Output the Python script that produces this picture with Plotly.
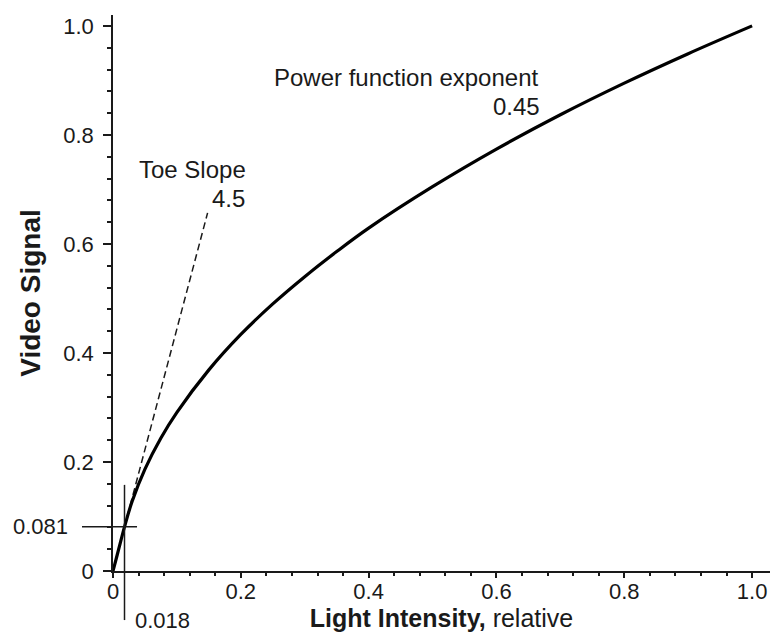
import plotly.graph_objects as go

# ---- data ----
light = [0.0, 0.005, 0.01, 0.018, 0.03, 0.05, 0.075, 0.1, 0.15, 0.2, 0.25, 0.3,
         0.35, 0.4, 0.5, 0.6, 0.7, 0.8, 0.9, 1.0]
signal = [0.0, 0.0225, 0.045, 0.081, 0.128, 0.187, 0.244, 0.291, 0.369, 0.434,
          0.490, 0.540, 0.586, 0.629, 0.705, 0.774, 0.837, 0.895, 0.949, 1.0]

toe_x = [0.018, 0.148]
toe_y = [0.081, 0.657]

knee_x = 0.018
knee_y = 0.081

tick_vals = [0, 0.2, 0.4, 0.6, 0.8, 1.0]
tick_text = ["0", "0.2", "0.4", "0.6", "0.8", "1.0"]

XMAX = 1.028
YMAX = 1.02
FONT = "Liberation Sans, Arial, sans-serif"
INK = "#1a1a1a"

fig = go.Figure()
fig.add_trace(go.Scatter(x=toe_x, y=toe_y, mode="lines",
                         line=dict(color=INK, width=1.5, dash="7px,4px"),
                         hoverinfo="skip", showlegend=False))
fig.add_trace(go.Scatter(x=light, y=signal, mode="lines",
                         line=dict(color="black", width=3.2, shape="spline"),
                         showlegend=False))

# knee cross lines (extend outside plot area -> paper coords)
fig.add_shape(type="line", xref="paper", yref="paper",
              x0=knee_x / XMAX, x1=knee_x / XMAX,
              y0=-0.09 / YMAX, y1=0.158 / YMAX,
              line=dict(color=INK, width=1.5))
fig.add_shape(type="line", xref="paper", yref="paper",
              x0=-0.0485 / XMAX, x1=0.0376 / XMAX,
              y0=knee_y / YMAX, y1=knee_y / YMAX,
              line=dict(color=INK, width=1.5))

ann_font = dict(family=FONT, size=24, color=INK)
fig.add_annotation(xref="paper", yref="paper", x=-0.067 / XMAX, y=knee_y / YMAX,
                   text=str(knee_y), showarrow=False,
                   xanchor="right", yanchor="middle",
                   font=dict(family=FONT, size=22, color=INK))
fig.add_annotation(xref="paper", yref="paper", x=0.031 / XMAX, y=-0.09 / YMAX,
                   text=str(knee_x), showarrow=False,
                   xanchor="left", yanchor="middle",
                   font=dict(family=FONT, size=22, color=INK))
fig.add_annotation(x=0.0376, y=0.736, text="Toe Slope", showarrow=False,
                   xanchor="left", yanchor="middle", font=ann_font)
fig.add_annotation(x=0.2097, y=0.684, text="4.5", showarrow=False,
                   xanchor="right", yanchor="middle", font=ann_font)
fig.add_annotation(x=0.249, y=0.905, text="Power function exponent", showarrow=False,
                   xanchor="left", yanchor="middle", font=ann_font)
fig.add_annotation(x=0.671, y=0.852, text="0.45", showarrow=False,
                   xanchor="right", yanchor="middle", font=ann_font)

axis_common = dict(
    showline=True, linecolor=INK, linewidth=1.5,
    ticks="outside", tickwidth=1.5, tickcolor=INK,
    tickvals=tick_vals, ticktext=tick_text,
    tickfont=dict(family=FONT, size=22, color=INK),
    showgrid=False, zeroline=False,
)

fig.update_xaxes(range=[0, XMAX], **axis_common, ticklen=5, ticklabelstandoff=-5,
                 minor=dict(ticks="outside", ticklen=3, tickwidth=1.5,
                            tickcolor=INK, dtick=0.04),
                 title=dict(text="<b>Light Intensity,</b> relative",
                            font=dict(family=FONT, size=25, color=INK), standoff=2))
fig.update_yaxes(range=[0, YMAX], **axis_common, ticklen=8, ticklabelstandoff=5,
                 minor=dict(ticks="outside", ticklen=4, tickwidth=1.5,
                            tickcolor=INK, dtick=0.04),
                 title=dict(text="<b>Video Signal</b>",
                            font=dict(family=FONT, size=28, color=INK), standoff=14))

fig.update_layout(width=770, height=637,
                  margin=dict(l=113, r=0, t=15, b=66),
                  plot_bgcolor="white", paper_bgcolor="white")

fig.write_html("out.html")
